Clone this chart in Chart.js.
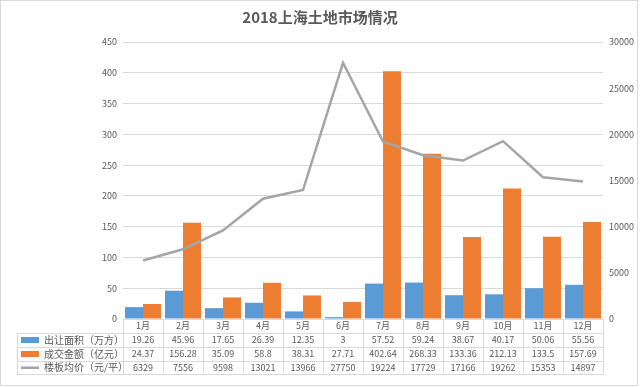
<!doctype html>
<html lang="zh">
  <head>
    <meta charset="utf-8">
    <title>2018上海土地市场情况</title>
    <script src="https://cdn.jsdelivr.net/npm/chart.js@4.4.0/dist/chart.umd.min.js"></script>
    <style>
      body { margin: 0; background: #fff; }
      #wrap { width: 640px; height: 387px; }
    </style>
  </head>
  <body>
    <div id="wrap"><canvas id="landChart" width="640" height="387"></canvas></div>

  <script>
    // data
    const months = ['1月', '2月', '3月', '4月', '5月', '6月', '7月', '8月', '9月', '10月', '11月', '12月'];
    const areaData = [19.26, 45.96, 17.65, 26.39, 12.35, 3, 57.52, 59.24, 38.67, 40.17, 50.06, 55.56];
    const amountData = [24.37, 156.28, 35.09, 58.8, 38.31, 27.71, 402.64, 268.33, 133.36, 212.13, 133.5, 157.69];
    const priceData = [6329, 7556, 9598, 13021, 13966, 27750, 19224, 17729, 17166, 19262, 15353, 14897];
    const seriesNames = ['出让面积（万方）', '成交金额（亿元）', '楼板均价（元/平）'];

    const txtColor = '#595959';
    const lineColor = '#d9d9d9';
    const fontFam = '"Noto Sans CJK SC", "Noto Sans", sans-serif';

    // draws the data table under the plot + chart border
    const tablePlugin = {
      id: 'dataTable',
      afterDraw(chart) {
        const ctx = chart.ctx;
        const area = chart.chartArea;
        const xs = chart.scales.x;
        const colW = (area.right - area.left) / months.length;
        const top = area.bottom;
        const rowH = [14, 14, 14, 13];
        const ys = [top];
        rowH.forEach(h => ys.push(ys[ys.length - 1] + h));
        const tableLeft = 17;

        ctx.save();
        ctx.strokeStyle = lineColor;
        ctx.lineWidth = 1;
        ctx.beginPath();
        // horizontal lines
        ctx.moveTo(area.left, ys[0] + 0.5);
        ctx.lineTo(area.right, ys[0] + 0.5);
        for (let r = 1; r < ys.length; r++) {
          ctx.moveTo(tableLeft, Math.round(ys[r]) + 0.5);
          ctx.lineTo(area.right, Math.round(ys[r]) + 0.5);
        }
        // vertical lines
        for (let k = 0; k <= months.length; k++) {
          const x = Math.round(area.left + k * colW) + 0.5;
          ctx.moveTo(x, ys[0]);
          ctx.lineTo(x, ys[ys.length - 1]);
        }
        ctx.moveTo(tableLeft + 0.5, ys[1]);
        ctx.lineTo(tableLeft + 0.5, ys[ys.length - 1]);
        ctx.stroke();

        ctx.fillStyle = txtColor;
        ctx.font = '9px ' + fontFam;
        ctx.textAlign = 'center';
        ctx.textBaseline = 'middle';
        const rows = [areaData, amountData, priceData];
        months.forEach((m, i) => {
          const cx = xs.getPixelForValue(i);
          ctx.fillText(m, cx, (ys[0] + ys[1]) / 2);
          rows.forEach((arr, r) => {
            ctx.fillText(String(arr[i]), cx, (ys[r + 1] + ys[r + 2]) / 2);
          });
        });

        // legend keys + series names
        const keyColors = ['#5b9bd5', '#ed7d31', '#a5a5a5'];
        ctx.textAlign = 'left';
        ctx.font = '10px ' + fontFam;
        seriesNames.forEach((name, r) => {
          const cy = (ys[r + 1] + ys[r + 2]) / 2;
          ctx.fillStyle = keyColors[r];
          if (r < 2) {
            ctx.fillRect(21, cy - 3, 18, 6);
          } else {
            ctx.fillRect(21, cy - 1, 18, 2.5);
          }
          ctx.fillStyle = txtColor;
          ctx.fillText(name, 44, cy);
        });

        // outer border of the chart
        ctx.strokeStyle = '#d9d9d9';
        ctx.strokeRect(0.5, 0.5, chart.width - 3, chart.height - 2);
        ctx.restore();
      }
    };

    const config = {
      type: 'bar',
      data: {
        labels: months,
        datasets: [
          {
            type: 'line',
            label: seriesNames[2],
            data: priceData,
            yAxisID: 'y1',
            borderColor: '#a5a5a5',
            backgroundColor: '#a5a5a5',
            borderWidth: 2.5,
            pointRadius: 0,
            tension: 0,
            order: 0
          },
          {
            label: seriesNames[0],
            data: areaData,
            yAxisID: 'y',
            backgroundColor: '#5b9bd5',
            categoryPercentage: 0.9,
            barPercentage: 1.0,
            order: 1
          },
          {
            label: seriesNames[1],
            data: amountData,
            yAxisID: 'y',
            backgroundColor: '#ed7d31',
            categoryPercentage: 0.9,
            barPercentage: 1.0,
            order: 1
          }
        ]
      },
      options: {
        responsive: false,
        animation: false,
        layout: {
          padding: { left: 0, right: 0, top: 0, bottom: 68 }
        },
        plugins: {
          legend: { display: false },
          tooltip: { enabled: false },
          title: {
            display: true,
            text: '2018上海土地市场情况',
            color: txtColor,
            font: { family: fontFam, size: 15, weight: 'bold' },
            padding: { top: 8, bottom: 16 }
          }
        },
        scales: {
          x: {
            display: false
          },
          y: {
            position: 'left',
            min: 0,
            max: 450,
            ticks: {
              stepSize: 50,
              color: txtColor,
              padding: 6,
              font: { family: fontFam, size: 9 }
            },
            grid: { color: lineColor, drawTicks: false },
            border: { display: false },
            afterFit(scale) { scale.width = 123; }
          },
          y1: {
            position: 'right',
            min: 0,
            max: 30000,
            ticks: {
              stepSize: 5000,
              color: txtColor,
              padding: 6,
              font: { family: fontFam, size: 9 },
              callback: v => String(v)
            },
            grid: { display: false, drawTicks: false },
            border: { display: false },
            afterFit(scale) { scale.width = 37; }
          }
        }
      },
      plugins: [tablePlugin]
    };

    new Chart(document.getElementById('landChart'), config);
  </script>
  </body>
</html>
